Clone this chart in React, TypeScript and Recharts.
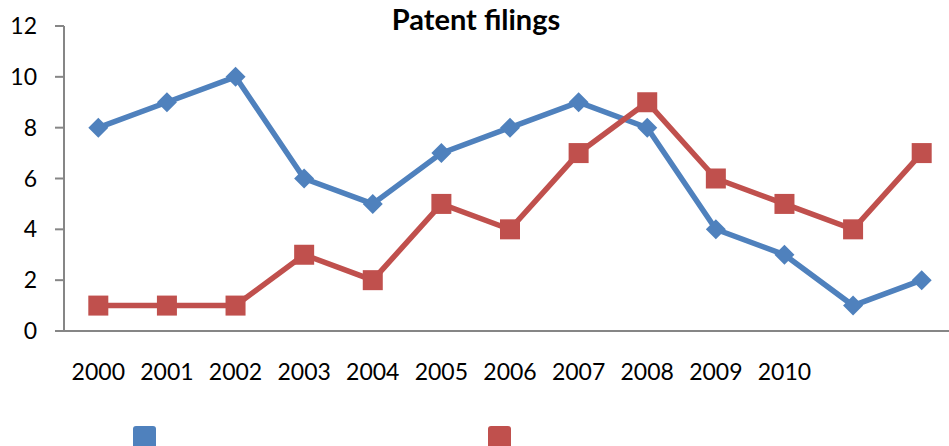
import React from 'react';
import { LineChart, Line, XAxis, YAxis, Legend } from 'recharts';

const categories = ['2000', '2001', '2002', '2003', '2004', '2005', '2006', '2007', '2008', '2009', '2010', '', ''];
const blueValues = [8, 9, 10, 6, 5, 7, 8, 9, 8, 4, 3, 1, 2];
const redValues = [1, 1, 1, 3, 2, 5, 4, 7, 9, 6, 5, 4, 7];
const yTicks = [0, 2, 4, 6, 8, 10, 12];
const title = 'Patent filings';

const BLUE = '#4F81BD';
const RED = '#C0504D';
const AXIS = '#868686';
const FONT = 'Lato, "Open Sans", sans-serif';

const data = categories.map((label, i) => ({ idx: i, label, blue: blueValues[i], red: redValues[i] }));
const labelTicks = categories.map((_, i) => i).filter((i) => categories[i] !== '');
const boundaryTicks = categories.map((_, i) => i - 0.5).concat([categories.length - 0.5]);

const Diamond = (props: any) => {
  const { cx, cy } = props;
  if (cx == null || cy == null) return null;
  const r = 10;
  return <path d={`M${cx},${cy - r}L${cx + r},${cy}L${cx},${cy + r}L${cx - r},${cy}Z`} fill={BLUE} stroke="none" />;
};

const Square = (props: any) => {
  const { cx, cy } = props;
  if (cx == null || cy == null) return null;
  const s = 10;
  return <rect x={cx - s} y={cy - s} width={2 * s} height={2 * s} fill={RED} stroke="none" />;
};

const LegendContent = () => (
  <div style={{ position: 'relative', height: 65, width: '100%' }}>
    <div style={{ position: 'absolute', left: 133, top: 45, width: 23, height: 23, background: BLUE, borderRadius: 3 }} />
    <div style={{ position: 'absolute', left: 488, top: 45, width: 23, height: 23, background: RED, borderRadius: 3 }} />
  </div>
);

export default function App() {
  return (
    <div style={{ position: 'absolute', left: 0, top: 0, width: 949, height: 446, overflow: 'hidden', background: '#fff' }}>
      <LineChart width={956} height={446} data={data} margin={{ top: 26, right: 0, bottom: 0, left: 0 }}>
        <text x={476} y={30} textAnchor="middle" style={{ fontFamily: FONT, fontWeight: 700, fontSize: 29, fill: '#000' }}>
          {title}
        </text>
        <XAxis
          xAxisId="a"
          dataKey="idx"
          type="number"
          domain={[-0.5, categories.length - 0.5]}
          ticks={boundaryTicks}
          interval={0}
          tick={false}
          tickSize={9}
          height={1}
          axisLine={{ stroke: AXIS, strokeWidth: 2 }}
          tickLine={{ stroke: AXIS, strokeWidth: 2 }}
        />
        <XAxis
          xAxisId="b"
          dataKey="idx"
          type="number"
          domain={[-0.5, categories.length - 0.5]}
          ticks={labelTicks}
          interval={0}
          tickFormatter={(v: number) => categories[v]}
          axisLine={false}
          tickLine={false}
          tickSize={9}
          tickMargin={23}
          height={49}
          tick={{ fill: '#000', fontSize: 23, fontFamily: FONT }}
        />
        <YAxis
          domain={[0, 12]}
          ticks={yTicks}
          interval={0}
          width={64}
          tickSize={9}
          tickMargin={18}
          axisLine={{ stroke: AXIS, strokeWidth: 2 }}
          tickLine={{ stroke: AXIS, strokeWidth: 2 }}
          tick={{ fill: '#000', fontSize: 23, fontFamily: FONT }}
        />
        <Legend verticalAlign="bottom" content={LegendContent} />
        <Line
          xAxisId="b"
          dataKey="blue"
          stroke={BLUE}
          strokeWidth={5.5}
          dot={Diamond}
          activeDot={false}
          isAnimationActive={false}
        />
        <Line
          xAxisId="b"
          dataKey="red"
          stroke={RED}
          strokeWidth={5.5}
          dot={Square}
          activeDot={false}
          isAnimationActive={false}
        />
      </LineChart>
    </div>
  );
}
